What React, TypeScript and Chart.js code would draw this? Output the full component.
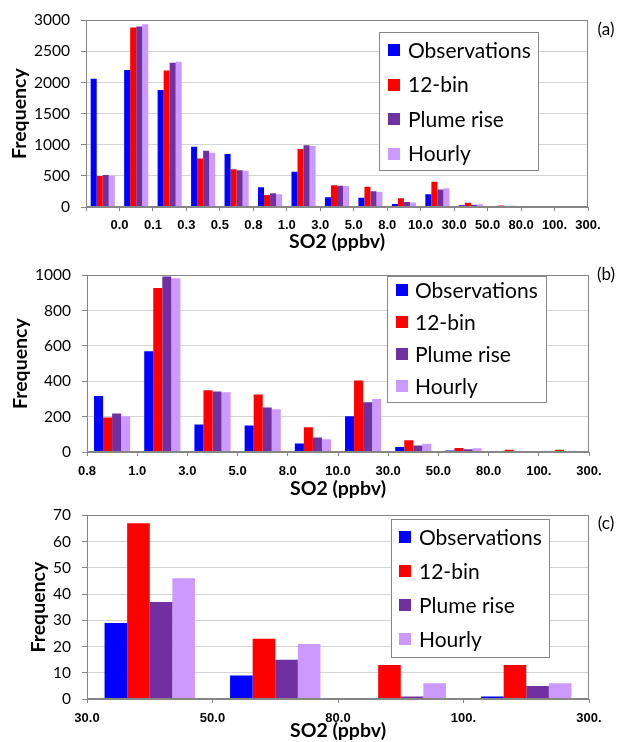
import React, { useEffect, useRef } from 'react';
import { Chart, registerables } from 'chart.js';

Chart.register(...registerables);

const PAGE_W = 619;
const PAGE_H = 742;

const SERIES_NAMES = ['Observations', '12-bin', 'Plume rise', 'Hourly'];
const SERIES_COLORS = ['#0000FF', '#FF0000', '#7030A0', '#CC99FF'];

// Panel (a): bin edges (label at the right edge of each bin) and counts
const EDGES_A = ['', '0.0', '0.1', '0.3', '0.5', '0.8', '1.0', '3.0', '5.0', '8.0', '10.0', '30.0', '50.0', '80.0', '100.', '300.'];
const OBS_A = [2060, 2200, 1880, 970, 850, 318, 568, 155, 148, 48, 203, 29, 9, 0, 1];
const BIN12_A = [500, 2885, 2195, 780, 605, 192, 930, 350, 326, 140, 405, 67, 23, 13, 13];
const PLUME_A = [515, 2900, 2318, 903, 592, 220, 993, 342, 252, 82, 282, 37, 15, 1, 5];
const HOURLY_A = [502, 2938, 2332, 870, 582, 205, 982, 337, 242, 72, 300, 46, 21, 6, 6];

// Panel (b)
const EDGES_B = ['0.8', '1.0', '3.0', '5.0', '8.0', '10.0', '30.0', '50.0', '80.0', '100.', '300.'];
const OBS_B = [317, 570, 155, 150, 48, 203, 29, 9, 0, 1];
const BIN12_B = [195, 928, 350, 325, 140, 405, 67, 23, 13, 13];
const PLUME_B = [218, 993, 343, 252, 82, 282, 37, 15, 1, 5];
const HOURLY_B = [203, 983, 338, 242, 72, 300, 46, 21, 6, 6];

// Panel (c)
const EDGES_C = ['30.0', '50.0', '80.0', '100.', '300.'];
const OBS_C = [29, 9, 0, 1];
const BIN12_C = [67, 23, 13, 13];
const PLUME_C = [37, 15, 1, 5];
const HOURLY_C = [46, 21, 6, 6];

const FRAME = '#868686';
const GRID = '#D4D4D4';

type Spec = {
  tag: string;
  top: number;
  height: number;
  area: { l: number; r: number; t: number; b: number };
  edges: string[];
  series: number[][];
  yMax: number;
  yStep: number;
  yTitleX: number;
  xTickY: number;
  xTitleY: number;
  legend: { x: number; y: number; w: number; h: number; first: number; gap: number; sq: number; tx: number };
  tagPos: { x: number; y: number };
};

const PANELS: Spec[] = [
  {
    tag: '(a)', top: 0, height: 255,
    area: { l: 86, r: 588, t: 20, b: 207 },
    edges: EDGES_A, series: [OBS_A, BIN12_A, PLUME_A, HOURLY_A],
    yMax: 3000, yStep: 500, yTitleX: 20, xTickY: 225, xTitleY: 242,
    legend: { x: 379, y: 32, w: 159, h: 138, first: 18, gap: 34.5, sq: 388, tx: 408 },
    tagPos: { x: 606, y: 30 },
  },
  {
    tag: '(b)', top: 255, height: 250,
    area: { l: 87, r: 589, t: 266, b: 452 },
    edges: EDGES_B, series: [OBS_B, BIN12_B, PLUME_B, HOURLY_B],
    yMax: 1000, yStep: 200, yTitleX: 21, xTickY: 471, xTitleY: 489,
    legend: { x: 387, y: 276, w: 159, h: 126, first: 14, gap: 32, sq: 396, tx: 415 },
    tagPos: { x: 606, y: 275 },
  },
  {
    tag: '(c)', top: 495, height: 247,
    area: { l: 87, r: 589, t: 512, b: 699 },
    edges: EDGES_C, series: [OBS_C, BIN12_C, PLUME_C, HOURLY_C],
    yMax: 70, yStep: 10, yTitleX: 39, xTickY: 718, xTitleY: 731,
    legend: { x: 391, y: 519, w: 158, h: 138, first: 18, gap: 34, sq: 399, tx: 419 },
    tagPos: { x: 606, y: 524 },
  },
];

const Y_TICK_FONT = { family: 'Lato', size: 15.5 };
const X_TICK_FONT = { family: 'Liberation Sans', size: 13, weight: 'bold' as const };
const TITLE_FONT = { family: 'Lato', size: 19.5, weight: 'bold' as const };

function Panel({ spec }: { spec: Spec }) {
  const ref = useRef<HTMLCanvasElement | null>(null);

  useEffect(() => {
    const canvas = ref.current;
    if (!canvas) return;
    const n = spec.series[0].length;
    const H = spec.height;
    const a = spec.area;
    const titleLH = TITLE_FONT.size * 1.2;
    const xTickLH = X_TICK_FONT.size * 1.2;

    const decor = {
      id: 'decor',
      afterDraw(chart: any) {
        const ctx = chart.ctx as CanvasRenderingContext2D;
        const ca = chart.chartArea;
        const oy = spec.top;
        ctx.save();
        ctx.strokeStyle = FRAME;
        ctx.lineWidth = 1;
        ctx.strokeRect(Math.round(ca.left) + 0.5, Math.round(ca.top) + 0.5, Math.round(ca.right - ca.left) - 1, Math.round(ca.bottom - ca.top) - 1);
        const L = spec.legend;
        ctx.fillStyle = '#FFFFFF';
        ctx.fillRect(L.x, L.y - oy, L.w, L.h);
        ctx.strokeRect(L.x + 0.5, L.y - oy + 0.5, L.w, L.h);
        ctx.font = '21px Lato';
        ctx.textBaseline = 'middle';
        ctx.textAlign = 'left';
        chart.data.datasets.forEach((ds: any, i: number) => {
          const cy = L.y - oy + L.first + i * L.gap;
          ctx.fillStyle = ds.backgroundColor;
          ctx.fillRect(L.sq, Math.round(cy - 6), 12, 12);
          ctx.fillStyle = '#000000';
          ctx.fillText(ds.label, L.tx, cy + 1);
        });
        ctx.font = '17px Lato';
        ctx.textAlign = 'center';
        ctx.fillStyle = '#000000';
        ctx.fillText(spec.tag, spec.tagPos.x, spec.tagPos.y - oy);
        ctx.restore();
      },
    };

    const chart = new Chart(canvas, {
      type: 'bar',
      data: {
        datasets: SERIES_NAMES.map((name, s) => ({
          label: name,
          data: spec.series[s].map((v, i) => ({ x: i + 0.5, y: v })),
          backgroundColor: SERIES_COLORS[s],
          borderWidth: 0,
          categoryPercentage: 0.72,
          barPercentage: 1.0,
        })),
      },
      options: {
        animation: false,
        responsive: false,
        maintainAspectRatio: false,
        layout: { padding: { left: 0, top: a.t - spec.top, right: PAGE_W - a.r, bottom: 0 } },
        plugins: { legend: { display: false }, tooltip: { enabled: false } },
        scales: {
          x: {
            type: 'linear',
            min: 0,
            max: n,
            offset: false,
            afterFit: (s: any) => { s.height = H - (a.b - spec.top); },
            ticks: {
              stepSize: 1,
              autoSkip: false,
              maxRotation: 0,
              minRotation: 0,
              padding: spec.xTickY - a.b - 4 - xTickLH / 2,
              color: '#000000',
              font: X_TICK_FONT,
              callback: (v: any) => spec.edges[Math.round(Number(v))] ?? '',
            },
            grid: { display: true, drawOnChartArea: false, drawTicks: true, tickLength: 4, tickColor: FRAME, offset: false },
            border: { display: true, color: FRAME },
            title: {
              display: true,
              text: 'SO2 (ppbv)',
              color: '#000000',
              font: TITLE_FONT,
              padding: { top: 0, bottom: H - titleLH / 2 - (spec.xTitleY - spec.top) },
            },
          },
          y: {
            min: 0,
            max: spec.yMax,
            afterFit: (s: any) => { s.width = a.l; },
            ticks: {
              stepSize: spec.yStep,
              padding: 11,
              color: '#000000',
              font: Y_TICK_FONT,
              callback: (v: any) => String(v),
            },
            grid: { color: GRID, tickColor: FRAME, tickLength: 5 },
            border: { display: true, color: FRAME },
            title: {
              display: true,
              text: 'Frequency',
              color: '#000000',
              font: TITLE_FONT,
              padding: { top: spec.yTitleX - titleLH / 2, bottom: 0 },
            },
          },
        },
      } as any,
      plugins: [decor],
    });
    return () => chart.destroy();
  }, [spec]);

  return (
    <canvas
      ref={ref}
      width={PAGE_W}
      height={spec.height}
      style={{ position: 'absolute', left: 0, top: spec.top, width: PAGE_W, height: spec.height }}
    />
  );
}

export default function App() {
  return (
    <div style={{ position: 'fixed', left: 0, top: 0, width: PAGE_W, height: PAGE_H, background: '#FFFFFF' }}>
      {PANELS.map((p) => (
        <Panel key={p.tag} spec={p} />
      ))}
    </div>
  );
}
